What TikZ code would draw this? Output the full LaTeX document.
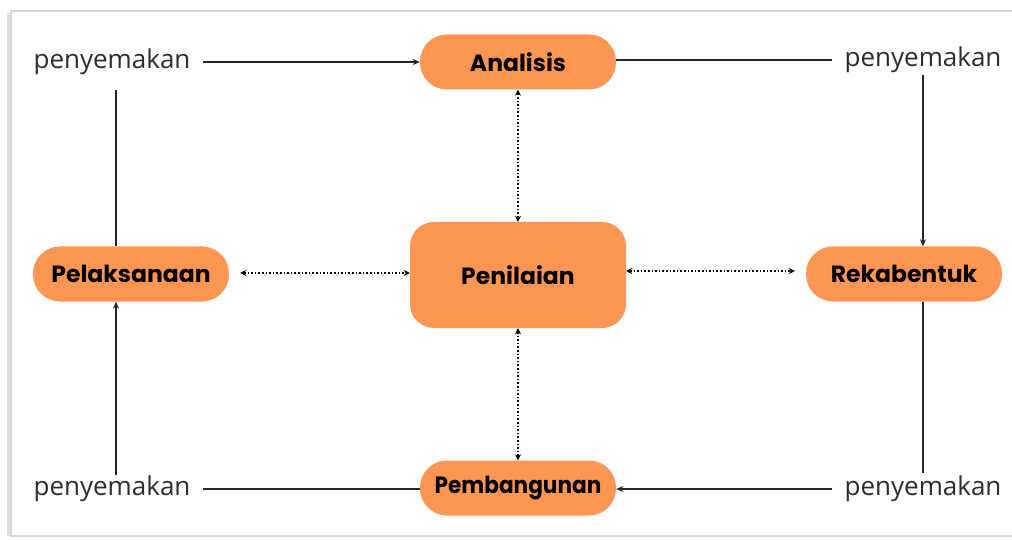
\documentclass[tikz,border=0pt]{standalone}
\usepackage{fontspec}
\setmainfont{Open Sans}
\newfontfamily\boldlbl{Poppins}[UprightFont=* Bold]
\usetikzlibrary{arrows.meta}
\definecolor{boxorange}{RGB}{253,150,82}
\definecolor{txtgrey}{RGB}{45,45,45}
\definecolor{framegrey}{RGB}{215,215,215}
\tikzset{
  stage/.style={fill=boxorange, draw=none, rounded corners=27pt, minimum width=196pt, minimum height=55pt, inner sep=0pt, font=\boldlbl\fontsize{23.5}{26}\selectfont, text=black},
  hub/.style={fill=boxorange, draw=none, rounded corners=24pt, minimum width=216pt, minimum height=106pt, inner sep=0pt, font=\boldlbl\fontsize{23.5}{26}\selectfont, text=black},
  review/.style={font=\fontsize{26}{30}\selectfont, text=txtgrey, inner sep=0pt},
  flow/.style={line width=1.8pt, draw=black!85},
  flowarrow/.style={flow, -{Stealth[length=7pt,width=6pt]}},
  dotlink/.style={line width=1.6pt, dotted, {Stealth[length=6pt,width=6pt]}-{Stealth[length=6pt,width=6pt]}},
}
\begin{document}
\begin{tikzpicture}[x=1pt,y=-1pt]
\useasboundingbox (0,0) rectangle (1012,540);
\fill[white] (0,0) rectangle (1012,540);
\draw[framegrey, line width=1.2pt] (1014,11) -- (11,11) -- (11,536) -- (1014,536);
\draw[black!12, line width=3pt] (8,13) -- (8,536);

\node[stage] (ana) at (518,62) {Analisis};
\node[hub] (pen) at (518,275) {Penilaian};
\node[stage] (pel) at (131,274) {Pelaksanaan};
\node[stage] (rek) at (904,274) {Rekabentuk};
\node[stage] (pem) at (518,488) {\scalebox{0.92}[1]{Pembangunan}};

\node[review] (tl) at (112,62) {penyemakan};
\node[review] (tr) at (923,60) {penyemakan};
\node[review] (bl) at (112,489) {penyemakan};
\node[review] (br) at (923,489) {penyemakan};

\coordinate (tlr) at (203,62);
\coordinate (tlb) at (116,90);
\coordinate (trl) at (832,60);
\coordinate (trb) at (923,75);
\coordinate (brl) at (832,489);
\coordinate (brt) at (923,473);
\coordinate (blr) at (203,489);
\coordinate (blt) at (116,475);

\draw[flowarrow] (tlr) -- (ana.west |- tlr);
\draw[flow] (ana.east |- trl) -- (trl);
\draw[flowarrow] (trb) -- (trb |- rek.north);
\draw[flow] (brt |- rek.south) -- (brt);
\draw[flowarrow] (brl) -- (pem.east |- brl);
\draw[flow] (pem.west |- blr) -- (blr);
\draw[flowarrow] (blt) -- (blt |- pel.south);
\draw[flow] (tlb |- pel.north) -- (tlb);

\draw[dotlink] (ana.south) -- (pen.north);
\draw[dotlink] (pen.south) -- (pem.north);
\draw[dotlink, shorten <=11pt] (pel.east |- 0,273) -- (pen.west |- 0,273);
\draw[dotlink, shorten >=11pt] (pen.east |- 0,271) -- (rek.west |- 0,271);
\end{tikzpicture}
\end{document}
